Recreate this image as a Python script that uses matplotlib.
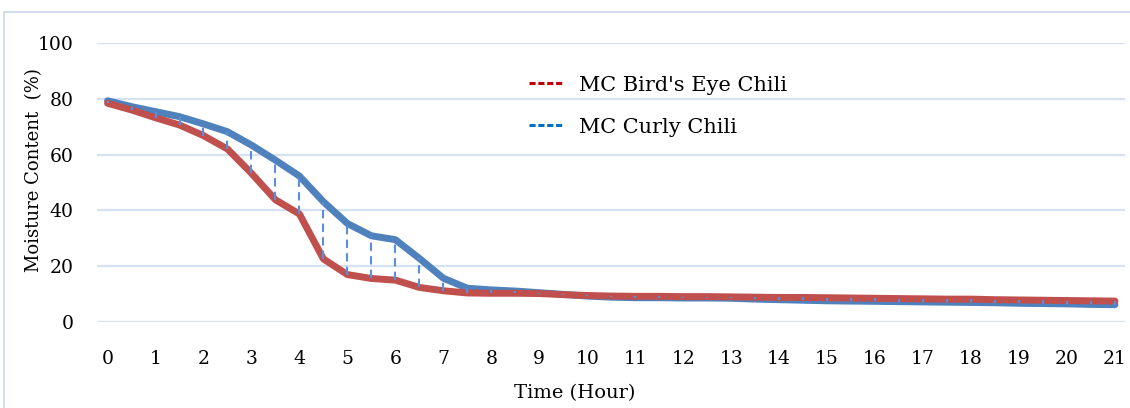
import matplotlib
matplotlib.use('Agg')
import matplotlib.pyplot as plt
from matplotlib.lines import Line2D
from matplotlib.patches import Rectangle
import numpy as np

plt.rcParams['font.family'] = ['DejaVu Serif']

# time in hours, one reading every half hour
hours = np.arange(0, 21.5, 0.5)

mc_birds_eye = [78.4, 76.0, 73.2, 70.6, 66.8, 62.0, 53.3, 43.8, 38.7, 22.6,
                17.0, 15.6, 15.0, 12.4, 11.2, 10.4, 10.3, 10.3, 10.2, 9.8,
                9.5, 9.3, 9.2, 9.2, 9.1, 9.1, 9.0, 8.9, 8.8, 8.8,
                8.7, 8.6, 8.5, 8.4, 8.3, 8.2, 8.2, 8.0, 7.9, 7.8,
                7.7, 7.6, 7.5]
mc_curly = [79.3, 77.2, 75.4, 73.6, 71.0, 68.2, 63.4, 58.0, 52.3, 43.1,
            35.3, 30.9, 29.5, 22.8, 15.7, 12.1, 11.5, 11.1, 10.5, 9.9,
            9.3, 8.9, 8.7, 8.7, 8.6, 8.6, 8.5, 8.2, 8.0, 7.8,
            7.6, 7.5, 7.4, 7.3, 7.2, 7.1, 7.0, 6.9, 6.7, 6.6,
            6.5, 6.3, 6.2]

labels = ["MC Bird's Eye Chili", "MC Curly Chili"]
x_ticks = list(range(0, 22))
y_ticks = [0, 20, 40, 60, 80, 100]

fig = plt.figure(figsize=(11.3, 4.08), dpi=100)
ax = fig.add_axes([97 / 1130, 1 - 322 / 408, (1125 - 97) / 1130, (322 - 43) / 408])

ax.plot(hours, mc_curly, color='#4F81BD', lw=5, solid_capstyle='round', zorder=3)
ax.plot(hours, mc_birds_eye, color='#C0504D', lw=5, solid_capstyle='round', zorder=4)

lo = np.minimum(mc_curly, mc_birds_eye)
hi = np.maximum(mc_curly, mc_birds_eye)
ax.vlines(hours, lo, hi, colors='#5B8FDB', lw=1.5, linestyles=(0, (4, 2.5)), zorder=5)

ax.set_xlim(-0.22, 21.21)
ax.set_ylim(0, 100)
ax.set_xticks(x_ticks)
ax.set_yticks(y_ticks)
ax.tick_params(length=0, labelsize=13.5)
ax.tick_params(axis='x', pad=20)
ax.tick_params(axis='y', pad=17)
ax.grid(axis='y', color='#D6E2F3', lw=1.6)
ax.set_axisbelow(True)
for s in ax.spines.values():
    s.set_visible(False)

ax.set_xlabel('Time (Hour)', fontsize=14)
ax.xaxis.set_label_coords((575 - 97) / 1028, (322 - 384) / 279)
ax.set_ylabel('Moisture Content  (%)', fontsize=13)
ax.yaxis.set_label_coords((43 - 97) / 1028, (322 - 170) / 279)

handles = [Line2D([], [], color='#C00000', lw=2.2, linestyle=(0, (2.0, 0.9))),
           Line2D([], [], color='#0070C0', lw=2.2, linestyle=(0, (2.0, 0.9)))]
fig.legend(handles, labels, loc='upper left', bbox_to_anchor=(510 / 1130, 1 - 57 / 408),
           frameon=False, fontsize=15, handlelength=1.6, handletextpad=0.8,
           labelspacing=1.1)

fig.patches.append(Rectangle((4 / 1130, -0.1), 1.2, 1 - 12 / 408 + 0.1, transform=fig.transFigure,
                             fill=False, edgecolor='#C9D9EE', lw=1.2))

fig.savefig('out.png', dpi=100)
